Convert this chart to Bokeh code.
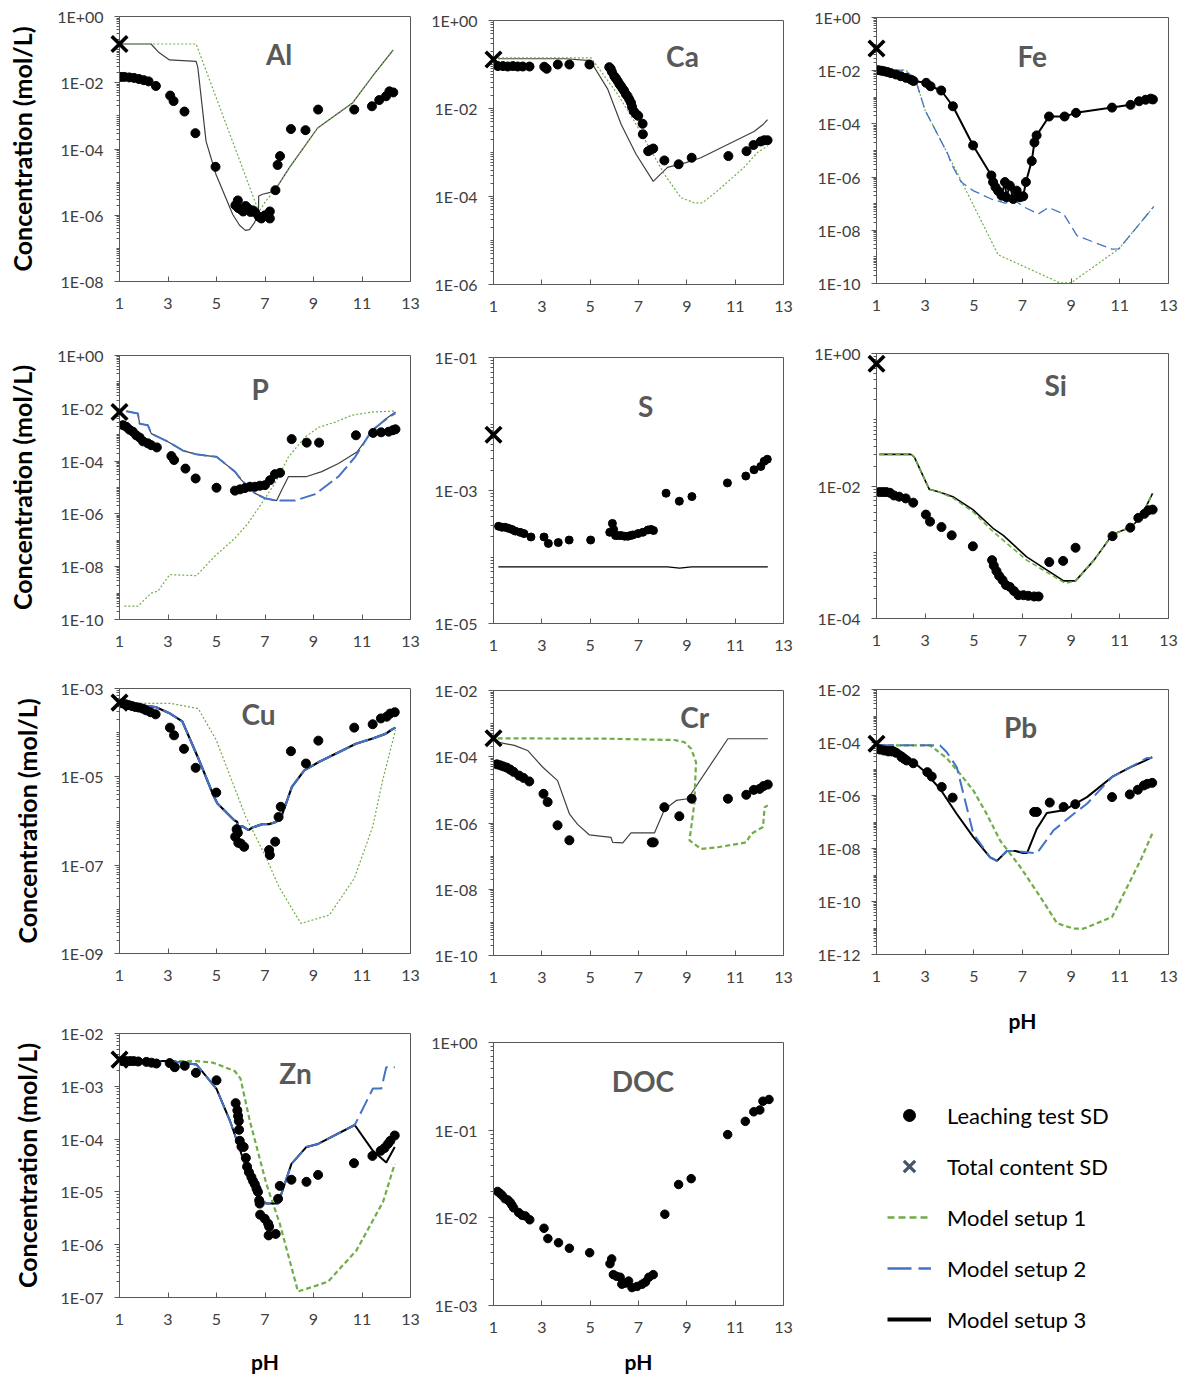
from bokeh.plotting import figure
from bokeh.layouts import row, column
from bokeh.models import (FixedTicker, CustomJSTickFormatter, Label, Range1d,
                          Legend, LegendItem)
from bokeh.embed import file_html
from bokeh.resources import INLINE

# ---------------- data (pH, concentration in mol/L) ----------------
# Al
al_ph = [1.07, 1.2, 1.4, 1.6, 1.8, 2.0, 2.2, 2.5, 3.09, 3.23, 3.68, 4.13, 4.96, 5.78, 5.88, 5.9, 6.0, 6.1, 6.2,
         6.3, 6.4, 6.5, 6.6, 6.75, 6.85, 7.0, 7.2, 7.2, 7.43, 7.52, 7.62, 8.07, 8.67, 9.19, 10.68, 11.41, 11.71,
         11.99, 12.13, 12.29]
al_conc = [1.5e-2, 1.5e-2, 1.45e-2, 1.4e-2, 1.3e-2, 1.2e-2, 1.1e-2, 8e-3, 4.1e-3, 2.8e-3, 1.35e-3, 3e-4, 2.9e-5,
           2e-6, 2.8e-6, 1.65e-6, 1.5e-6, 1.3e-6, 1.9e-6, 1.6e-6, 1.26e-6, 1.4e-6, 1.2e-6, 9e-7, 8e-7, 1e-6, 8e-7,
           1.3e-6, 5.7e-6, 3.3e-5, 6.1e-5, 4e-4, 3.7e-4, 1.55e-3, 1.55e-3, 1.95e-3, 3e-3, 3.9e-3, 5.5e-3, 5.1e-3]
al_total_ph = [1.0]
al_total = [0.148]
al_m1_ph = [1.07, 4.16, 6.75, 7.0, 7.43, 8.0, 9.17, 10.62, 11.44, 12.29]
al_m1 = [0.148, 0.148, 1.26e-6, 2.5e-6, 6e-6, 2.7e-5, 4.3e-4, 2.5e-3, 1.6e-2, 9.8e-2]
al_m3_ph = [1.07, 2.3, 2.6, 3.06, 4.16, 4.23, 4.57, 4.98, 5.67, 5.95, 6.19, 6.36, 6.56, 6.73, 6.74, 6.9, 7.18,
            7.43, 8.0, 9.17, 10.62, 11.44, 12.29]
al_m3 = [0.148, 0.148, 0.085, 0.049, 0.044, 0.029, 1.7e-4, 1.7e-5, 1.05e-6, 5e-7, 3.5e-7, 3.7e-7, 5.9e-7, 1.05e-6,
         3.8e-6, 4.3e-6, 4.8e-6, 6e-6, 2.7e-5, 4.3e-4, 2.5e-3, 1.6e-2, 9.8e-2]

# Ca
ca_ph = [1.18, 1.39, 1.59, 1.8, 2.0, 2.21, 2.49, 3.1, 3.2, 3.66, 4.14, 4.97, 5.79, 5.85, 5.9, 6.0, 6.07, 6.14,
         6.21, 6.28, 6.35, 6.41, 6.48, 6.55, 6.62, 6.69, 6.73, 6.8, 6.9, 6.99, 7.17, 7.18, 7.4, 7.5, 7.61, 8.07,
         8.66, 9.2, 10.72, 11.47, 11.76, 12.06, 12.2, 12.34]
ca_conc = [0.092, 0.092, 0.09, 0.092, 0.09, 0.09, 0.09, 0.089, 0.08, 0.1, 0.1, 0.1, 0.087, 0.08, 0.068, 0.054,
           0.048, 0.042, 0.036, 0.032, 0.028, 0.025, 0.021, 0.019, 0.016, 0.0135, 0.011, 0.0087, 0.0075, 0.0068,
           0.0045, 0.0026, 0.00107, 0.00115, 0.00123, 0.00066, 0.00054, 0.00076, 0.00083, 0.00107, 0.00148,
           0.00178, 0.0019, 0.0019]
ca_total_ph = [1.0]
ca_total = [0.13]
ca_m1_ph = [1.18, 5.04, 6.14, 6.83, 7.38, 8.07, 8.75, 9.3, 9.65, 10.27, 11.37, 11.92, 12.34]
ca_m1 = [0.141, 0.141, 0.021, 0.0051, 0.0015, 3.2e-4, 9.5e-5, 7.2e-5, 7.2e-5, 1.35e-4, 4.6e-4, 1e-3, 1.4e-3]
ca_m3_ph = [1.18, 4.0, 5.0, 5.72, 6.28, 6.9, 7.61, 8.2, 8.96, 9.58, 11.78, 12.13, 12.34]
ca_m3 = [0.135, 0.135, 0.123, 0.028, 0.0044, 9.1e-4, 2.2e-4, 4.6e-4, 5.9e-4, 7.6e-4, 3e-3, 4.2e-3, 5.6e-3]

# Fe
fe_ph = [1.07, 1.2, 1.32, 1.45, 1.59, 1.8, 2.0, 2.21, 2.42, 2.52, 3.04, 3.22, 3.66, 4.14, 4.97, 5.72, 5.79, 5.89,
         6.0, 6.14, 6.28, 6.34, 6.48, 6.62, 6.76, 6.9, 7.03, 7.14, 7.38, 7.49, 7.58, 8.09, 8.73, 9.2, 10.68,
         11.44, 11.79, 12.06, 12.27, 12.36]
fe_conc = [1.05e-2, 1.0e-2, 9.5e-3, 8.9e-3, 8.1e-3, 7.2e-3, 6.2e-3, 5.4e-3, 4.6e-3, 4.1e-3, 3.5e-3, 2.6e-3,
           1.8e-3, 4.6e-4, 1.55e-5, 1.15e-6, 6.5e-7, 4.2e-7, 3e-7, 2e-7, 6.5e-7, 1.75e-7, 4.8e-7, 1.5e-7, 3.1e-7,
           1.75e-7, 1.9e-7, 6.5e-7, 4e-6, 2e-5, 3.7e-5, 1.9e-4, 1.9e-4, 2.6e-4, 4.1e-4, 5.2e-4, 7.1e-4, 8.1e-4,
           8.9e-4, 8.3e-4]
fe_total_ph = [1.0]
fe_total = [6.8e-2]
fe_m1_ph = [1.07, 2.21, 2.63, 3.0, 3.93, 6.0, 8.55, 9.0, 10.96, 12.4]
fe_m1 = [1.0e-2, 1.05e-2, 3.8e-3, 3.2e-4, 7.4e-6, 1.2e-9, 1.05e-10, 1.07e-10, 2e-9, 7.9e-8]
fe_m2_ph = [1.07, 2.21, 2.63, 3.0, 3.93, 4.07, 4.48, 4.97, 5.72, 6.28, 6.69, 7.1, 7.65, 8.07, 8.69, 9.24, 10.68,
            10.96, 12.4]
fe_m2 = [1.0e-2, 1.05e-2, 3.8e-3, 3.2e-4, 7.4e-6, 3.2e-6, 6.5e-7, 3.1e-7, 1.5e-7, 1.05e-7, 1.3e-7, 7.2e-8,
         4.1e-8, 7.2e-8, 4.1e-8, 6.3e-9, 1.95e-9, 2e-9, 7.9e-8]

# P
p_ph = [1.14, 1.28, 1.41, 1.55, 1.69, 1.83, 1.97, 2.17, 2.31, 2.54, 3.14, 3.25, 3.72, 4.14, 5.0, 5.76, 5.97,
        6.17, 6.38, 6.59, 6.79, 7.0, 7.21, 7.41, 7.62, 8.1, 8.72, 9.23, 10.75, 11.46, 11.79, 12.1, 12.27, 12.38]
p_conc = [2.3e-3, 2.0e-3, 1.55e-3, 1.3e-3, 9.5e-4, 7.8e-4, 5.6e-4, 4.7e-4, 4e-4, 3.3e-4, 1.55e-4, 1.1e-4,
          5.2e-5, 2.2e-5, 9.8e-6, 7.6e-6, 8.5e-6, 9.5e-6, 1.07e-5, 1.07e-5, 1.17e-5, 1.23e-5, 1.9e-5, 3.2e-5,
          3.6e-5, 6.8e-4, 5e-4, 5e-4, 9.5e-4, 1.17e-3, 1.23e-3, 1.3e-3, 1.48e-3, 1.6e-3]
p_total_ph = [1.0]
p_total = [7.2e-3]
p_m1_ph = [1.2, 1.76, 2.31, 2.59, 3.07, 4.17, 4.93, 5.76, 6.31, 6.86, 7.41, 7.97, 8.66, 9.21, 9.9, 10.59, 11.41,
           12.38]
p_m1 = [3.2e-10, 3.2e-10, 1.0e-9, 1.2e-9, 5e-9, 4.6e-9, 2.5e-8, 1.2e-7, 4.5e-7, 2.5e-6, 1.45e-5, 1.45e-4,
        8.3e-4, 1.9e-3, 3e-3, 5.5e-3, 7.2e-3, 7.9e-3]
p_m2_ph = [1.28, 1.76, 1.83, 2.17, 2.31, 3.0, 3.62, 4.17, 5.0, 5.76, 6.03, 6.59, 7.0, 7.48, 8.24, 9.07, 10.03,
           10.72, 11.41, 12.1, 12.38]
p_m2 = [7.8e-3, 6.3e-3, 2.6e-3, 2.3e-3, 1.1e-3, 5.4e-4, 2.5e-4, 1.8e-4, 1.45e-4, 4e-5, 1.9e-5, 6e-6, 3.9e-6,
        3.2e-6, 3.2e-6, 5.6e-6, 2.6e-5, 1.45e-4, 1.48e-3, 4.5e-3, 6.6e-3]
p_m3_ph = [1.28, 1.76, 1.83, 2.17, 2.31, 3.0, 3.62, 4.17, 5.0, 5.76, 6.03, 6.59, 7.0, 7.48, 7.69, 7.97, 8.72,
           9.34, 10.03, 10.79, 11.41, 11.9, 12.38]
p_m3 = [7.8e-3, 6.3e-3, 2.6e-3, 2.3e-3, 1.1e-3, 5.4e-4, 2.5e-4, 1.8e-4, 1.45e-4, 4e-5, 1.9e-5, 6e-6, 3.9e-6,
        3.2e-6, 8.1e-6, 2.6e-5, 2.6e-5, 4e-5, 8.1e-5, 2.2e-4, 1.3e-3, 3.5e-3, 7.2e-3]

# S
s_ph = [1.21, 1.35, 1.48, 1.62, 1.76, 1.9, 2.1, 2.26, 2.55, 3.09, 3.27, 3.68, 4.13, 5.02, 5.81, 5.92, 5.97, 6.05,
        6.17, 6.29, 6.43, 6.56, 6.67, 6.77, 6.98, 7.18, 7.39, 7.52, 7.62, 8.14, 8.69, 9.21, 10.68, 11.44, 11.78,
        12.06, 12.2, 12.33]
s_conc = [2.9e-4, 2.8e-4, 2.8e-4, 2.7e-4, 2.6e-4, 2.45e-4, 2.35e-4, 2.25e-4, 2e-4, 2e-4, 1.6e-4, 1.65e-4,
          1.8e-4, 1.8e-4, 2.35e-4, 3.2e-4, 2.6e-4, 2.1e-4, 2.1e-4, 2.1e-4, 2.05e-4, 2.05e-4, 2.1e-4, 2.15e-4,
          2.25e-4, 2.35e-4, 2.55e-4, 2.6e-4, 2.5e-4, 9.1e-4, 6.9e-4, 8.1e-4, 1.3e-3, 1.65e-3, 2.05e-3, 2.3e-3,
          2.75e-3, 2.95e-3]
s_total_ph = [1.0]
s_total = [6.9e-3]
s_m3_ph = [1.2, 8.2, 8.7, 9.2, 12.35]
s_m3 = [7.1e-5, 7.1e-5, 6.8e-5, 7.1e-5, 7.1e-5]

# Si
si_ph = [1.12, 1.26, 1.4, 1.55, 1.72, 1.93, 2.2, 2.51, 3.03, 3.2, 3.67, 4.09, 4.96, 5.75, 5.82, 5.93, 6.04, 6.18,
         6.32, 6.48, 6.65, 6.83, 7.04, 7.24, 7.48, 7.66, 8.1, 8.67, 9.18, 10.7, 11.43, 11.76, 12.01, 12.17, 12.35]
si_conc = [8.1e-3, 8.1e-3, 8.1e-3, 7.9e-3, 7.2e-3, 6.9e-3, 6.5e-3, 5.6e-3, 3.7e-3, 2.9e-3, 2.4e-3, 1.8e-3,
           1.23e-3, 7.6e-4, 6.3e-4, 5.2e-4, 4.4e-4, 3.8e-4, 3.2e-4, 3e-4, 2.6e-4, 2.25e-4, 2.25e-4, 2.2e-4,
           2.15e-4, 2.15e-4, 7.1e-4, 7.4e-4, 1.17e-3, 1.75e-3, 2.35e-3, 3.3e-3, 3.8e-3, 4.3e-3, 4.4e-3]
si_total_ph = [1.0]
si_total = [0.7]
si_m1_ph = [1.12, 2.41, 2.55, 3.17, 3.58, 4.14, 4.96, 5.79, 7.17, 8.76, 9.18, 9.94, 10.7, 11.46, 11.87, 12.35]
si_m1 = [3e-2, 3e-2, 2.75e-2, 8.9e-3, 8.1e-3, 6.6e-3, 4.1e-3, 2.05e-3, 7.6e-4, 3.4e-4, 3.7e-4, 7.6e-4, 1.85e-3,
         2.4e-3, 3.4e-3, 7.8e-3]
si_m3_ph = [1.12, 2.41, 2.55, 3.17, 3.58, 4.14, 4.96, 5.79, 6.21, 7.17, 8.69, 9.18, 9.94, 10.7, 11.46, 11.87,
            12.35]
si_m3 = [3e-2, 3e-2, 2.75e-2, 8.9e-3, 8.1e-3, 6.9e-3, 4.4e-3, 2.3e-3, 1.8e-3, 8.5e-4, 3.7e-4, 3.7e-4, 7.6e-4,
         1.85e-3, 2.4e-3, 3.4e-3, 7.8e-3]

# Cu
cu_ph = [1.11, 1.25, 1.39, 1.52, 1.66, 1.8, 1.96, 2.1, 2.28, 2.49, 3.08, 3.25, 3.66, 4.14, 4.99, 5.77, 5.83, 5.88,
         5.9, 6.0, 6.14, 7.17, 7.2, 7.42, 7.56, 7.65, 8.07, 8.69, 9.2, 10.68, 11.44, 11.78, 12.02, 12.16, 12.35]
cu_conc = [4.6e-4, 4.4e-4, 4.2e-4, 4e-4, 3.8e-4, 3.7e-4, 3.5e-4, 3.2e-4, 2.9e-4, 2.6e-4, 1.3e-4, 8.7e-5, 4.3e-5,
           1.6e-5, 4.4e-6, 4.4e-7, 6.5e-7, 5.4e-7, 3.2e-7, 3.1e-7, 2.6e-7, 2.2e-7, 1.7e-7, 3.4e-7, 1.23e-6,
           2.1e-6, 3.8e-5, 2e-5, 6.6e-5, 1.3e-4, 1.55e-4, 2.1e-4, 2.3e-4, 2.7e-4, 2.9e-4]
cu_total_ph = [1.0]
cu_total = [4.8e-4]
cu_m1_ph = [1.2, 3.11, 4.25, 4.99, 6.21, 7.03, 7.58, 8.48, 9.65, 10.68, 11.44, 11.85, 12.38]
cu_m1 = [4.6e-4, 4.6e-4, 3.5e-4, 6.8e-5, 1.23e-6, 1.55e-7, 3.2e-8, 4.8e-9, 7.4e-9, 5e-8, 7.4e-7, 8.3e-6, 1.15e-4]
cu_m23_ph = [1.18, 2.49, 3.04, 3.59, 4.28, 4.9, 5.04, 5.72, 5.86, 5.87, 6.07, 6.32, 6.48, 6.9, 7.17, 7.45, 7.65,
             8.11, 8.62, 9.24, 10.75, 11.44, 11.99, 12.2, 12.38]
cu_m23 = [4.6e-4, 3.8e-4, 2.8e-4, 1.8e-4, 2.4e-5, 3.5e-6, 2.5e-6, 1.05e-6, 9.5e-7, 7.4e-7, 7.6e-7, 6.2e-7, 7.1e-7,
          8.5e-7, 8.5e-7, 9.5e-7, 1.15e-6, 5.9e-6, 1.4e-5, 2.2e-5, 5.6e-5, 7.4e-5, 9.5e-5, 1.15e-4, 1.3e-4]

# Cr
cr_ph = [1.14, 1.28, 1.41, 1.55, 1.69, 1.83, 2.06, 2.24, 2.48, 3.07, 3.24, 3.65, 4.14, 7.55, 7.63, 8.07, 8.69,
         9.2, 10.7, 11.46, 11.77, 12.01, 12.17, 12.35]
cr_conc = [5.9e-5, 5.5e-5, 5.1e-5, 4.7e-5, 4.1e-5, 3.5e-5, 2.7e-5, 2.3e-5, 1.8e-5, 7.6e-6, 4.3e-6, 8.5e-7, 3e-7,
           2.6e-7, 2.6e-7, 3e-6, 1.6e-6, 5.4e-6, 5.4e-6, 7.1e-6, 1e-5, 1.07e-5, 1.3e-5, 1.45e-5]
cr_total_ph = [1.0]
cr_total = [3.6e-4]
cr_m1_ph = [1.17, 5.72, 8.49, 8.9, 9.18, 9.38, 9.31, 9.11, 9.59, 10.28, 11.46, 11.66, 12.15, 12.22, 12.35]
cr_m1 = [3.6e-4, 3.5e-4, 3.2e-4, 2.75e-4, 1.75e-4, 6.9e-5, 3.8e-6, 3e-7, 1.65e-7, 1.85e-7, 2.6e-7, 4.7e-7, 7.6e-7,
         3e-6, 3.4e-6]
cr_m3_ph = [1.17, 1.86, 2.41, 3.03, 3.65, 4.14, 4.48, 4.96, 5.86, 5.93, 6.35, 6.69, 7.66, 8.07, 8.56, 9.04, 10.7,
            12.35]
cr_m3 = [2.75e-4, 2.2e-4, 1.55e-4, 4.9e-5, 1.9e-5, 1.9e-6, 9.1e-7, 4.4e-7, 3.7e-7, 2.6e-7, 2.5e-7, 5e-7, 5e-7,
         2.5e-6, 4.8e-6, 5.4e-6, 3.5e-4, 3.5e-4]

# Pb
pb_ph = [1.14, 1.31, 1.48, 1.62, 1.8, 2.03, 2.14, 2.24, 2.51, 3.09, 3.27, 3.68, 4.13, 7.48, 7.59, 8.12, 8.69, 9.17,
         10.68, 11.41, 11.74, 11.99, 12.13, 12.33]
pb_conc = [5.4e-5, 5e-5, 4.6e-5, 4.6e-5, 4.1e-5, 2.8e-5, 2.4e-5, 2.1e-5, 1.65e-5, 7.6e-6, 5.2e-6, 2.1e-6, 8.3e-7,
           2.4e-7, 2.4e-7, 5.4e-7, 3.7e-7, 4.7e-7, 8.7e-7, 1.1e-6, 1.65e-6, 2.4e-6, 2.75e-6, 3e-6]
pb_total_ph = [1.0]
pb_total = [9e-5]
pb_m1_ph = [1.14, 3.2, 3.88, 4.43, 4.98, 5.53, 6.08, 6.91, 7.73, 8.42, 9.1, 9.52, 10.68, 11.3, 11.85, 12.33]
pb_m1 = [7.8e-5, 7.8e-5, 2.6e-5, 6.6e-6, 1.55e-6, 2e-7, 2e-8, 2e-9, 1.5e-10, 1.5e-11, 9.5e-12, 9.5e-12, 2.6e-11,
         3.5e-10, 3.6e-9, 3.6e-8]
pb_m2_ph = [1.14, 3.61, 3.88, 4.3, 4.98, 5.67, 5.95, 6.36, 6.7, 7.59, 8.28, 9.1, 9.65, 10.68, 11.44, 12.1, 12.33]
pb_m2 = [7.8e-5, 7.8e-5, 4.4e-5, 1.17e-5, 3.6e-8, 4.6e-9, 3.4e-9, 8.1e-9, 8.1e-9, 6.5e-9, 4.9e-8, 2e-7, 4.9e-7,
         5e-6, 1.17e-5, 2.6e-5, 2.6e-5]
pb_m3_ph = [1.14, 1.69, 2.1, 2.92, 3.61, 4.3, 4.98, 5.67, 5.95, 6.36, 6.7, 7.02, 7.19, 7.59, 8.0, 8.69, 9.65,
            10.68, 11.44, 12.06, 12.33]
pb_m3 = [7.8e-5, 6.8e-5, 4e-5, 8.9e-6, 1.8e-6, 2e-7, 2.7e-8, 4.6e-9, 3.4e-9, 8.1e-9, 8.1e-9, 6.8e-9, 6.8e-9,
         5.6e-8, 2.2e-7, 2.75e-7, 8.7e-7, 5e-6, 1.17e-5, 2.1e-5, 2.8e-5]

# Zn
zn_ph = [1.12, 1.27, 1.43, 1.58, 1.77, 2.11, 2.32, 2.52, 3.07, 3.28, 3.69, 4.15, 5.0, 5.79, 5.86, 5.89, 5.92, 5.93,
         5.96, 6.03, 6.12, 6.21, 6.26, 6.34, 6.44, 6.51, 6.58, 6.65, 6.71, 6.76, 6.78, 6.8, 6.99, 7.13, 7.17, 7.15,
         7.44, 7.54, 7.61, 8.09, 8.71, 9.19, 10.67, 11.43, 11.77, 11.93, 12.07, 12.17, 12.35]
zn_conc = [3e-3, 3e-3, 3e-3, 3e-3, 2.95e-3, 2.9e-3, 2.8e-3, 2.7e-3, 2.75e-3, 2.3e-3, 2.45e-3, 1.8e-3, 1.3e-3,
           4.8e-4, 3.5e-4, 2.75e-4, 2.2e-4, 1.5e-4, 9.3e-5, 7.2e-5, 7.1e-5, 4.4e-5, 3e-5, 2.35e-5, 1.9e-5, 1.6e-5,
           1.4e-5, 1.15e-5, 1e-5, 6.9e-6, 6e-6, 3.7e-6, 3.1e-6, 2.5e-6, 2.2e-6, 1.5e-6, 1.6e-6, 7.4e-6, 1.3e-5,
           1.7e-5, 1.55e-5, 2.1e-5, 3.5e-5, 4.8e-5, 6e-5, 6.8e-5, 8.1e-5, 9.3e-5, 1.17e-4]
zn_total_ph = [1.0]
zn_total = [3.2e-3]
zn_m1_ph = [1.15, 4.17, 4.86, 5.75, 5.99, 6.37, 7.06, 7.61, 8.36, 8.98, 9.6, 10.77, 11.87, 12.35]
zn_m1 = [3e-3, 3e-3, 2.8e-3, 1.95e-3, 1.4e-3, 2.25e-4, 1.4e-5, 2.5e-6, 1.3e-7, 1.6e-7, 2e-7, 7.8e-7, 6.5e-6, 3.4e-5]
zn_m2_ph = [1.15, 3.07, 4.17, 5.0, 5.55, 5.96, 6.37, 6.71, 7.06, 7.54, 7.81, 8.09, 8.71, 9.19, 10.7, 11.45, 11.8,
            12.0, 12.35]
zn_m2 = [3e-3, 3e-3, 2.6e-3, 8.9e-4, 2.25e-4, 6.5e-5, 1.65e-5, 7.9e-6, 6e-6, 6e-6, 1.4e-5, 3.4e-5, 7.1e-5, 8.1e-5,
         1.85e-4, 9.1e-4, 9.1e-4, 2.3e-3, 2.3e-3]
zn_m3_ph = [1.15, 3.07, 4.17, 5.0, 5.55, 5.96, 6.37, 6.71, 7.06, 7.54, 7.81, 8.09, 8.71, 9.19, 10.7, 11.45, 12.0,
            12.35]
zn_m3 = [3e-3, 3e-3, 2.6e-3, 8.9e-4, 2.25e-4, 6.5e-5, 1.65e-5, 7.9e-6, 6e-6, 6e-6, 1.4e-5, 3.4e-5, 7.1e-5, 8.1e-5,
         1.85e-4, 6e-5, 3.6e-5, 7.1e-5]

# DOC
doc_ph = [1.17, 1.27, 1.36, 1.48, 1.59, 1.69, 1.76, 1.83, 2.04, 2.18, 2.32, 2.5, 3.09, 3.25, 3.69, 4.14, 4.98,
          5.82, 5.89, 5.96, 6.1, 6.24, 6.31, 6.45, 6.59, 6.73, 6.94, 7.15, 7.29, 7.43, 7.61, 8.09, 8.66, 9.18,
          10.69, 11.42, 11.77, 12.02, 12.15, 12.4]
doc_conc = [2e-2, 1.9e-2, 1.8e-2, 1.65e-2, 1.6e-2, 1.5e-2, 1.4e-2, 1.3e-2, 1.15e-2, 1.07e-2, 1.05e-2, 9.5e-3,
            7.6e-3, 5.8e-3, 5.2e-3, 4.5e-3, 4e-3, 3e-3, 3.4e-3, 2.25e-3, 2.15e-3, 2.1e-3, 1.75e-3, 1.8e-3, 1.9e-3,
            1.6e-3, 1.65e-3, 1.75e-3, 1.85e-3, 2.1e-3, 2.25e-3, 1.1e-2, 2.4e-2, 2.8e-2, 8.9e-2, 0.126, 0.162,
            0.17, 0.214, 0.224]

ph_ticks = [1, 3, 5, 7, 9, 11, 13]
y_label = "Concentration (mol/L)"
x_label = "pH"
legend_labels = ["Leaching test SD", "Total content SD", "Model setup 1", "Model setup 2", "Model setup 3"]

# ---------------- styling ----------------
FONT = "Lato"
GREEN = "#70AD47"
BLUE = "#4472C4"
BLACK = "#000000"
GREYLINE = "#404040"
AXIS_COL = "#595959"
TICK_TXT = "#404040"
TITLE_COL = "#595959"
DOT = 9

FMT_CODE = """
const e = Math.round(Math.log10(tick));
const a = Math.abs(e);
return '1E' + (e < 0 ? '-' : '+') + (a < 10 ? '0' : '') + a;
"""

# column geometry (page pixels): x start, x end, frame left, frame right
COLS = [(0, 428, 119, 410), (428, 800, 493, 783), (800, 1189, 876, 1168)]


def log_ticks(lo, hi, step):
    majors = [10.0 ** e for e in range(lo, hi + 1, step)]
    minors = [m * 10.0 ** e for e in range(lo, hi) for m in range(1, 10)
              if not (m == 1 and (e - lo) % step == 0)]
    return majors, minors


def make_panel(col, y0, y1, T, B, lo, hi, step, title, title_xy, ylab_gap=None, xlab_gap=None):
    x0, x1, L, R = COLS[col]
    p = figure(width=x1 - x0, height=y1 - y0, x_range=Range1d(1, 13),
               y_range=Range1d(10.0 ** lo, 10.0 ** hi), y_axis_type="log",
               output_backend="svg", toolbar_location=None,
               min_border_left=L - x0, min_border_right=x1 - R,
               min_border_top=T - y0, min_border_bottom=y1 - B)
    p.grid.visible = False
    p.outline_line_color = AXIS_COL
    p.outline_line_width = 1
    majors, minors = log_ticks(lo, hi, step)
    p.yaxis.ticker = FixedTicker(ticks=majors, minor_ticks=minors)
    p.yaxis.formatter = CustomJSTickFormatter(code=FMT_CODE)
    p.xaxis.ticker = FixedTicker(ticks=ph_ticks)
    for ax in (p.xaxis[0], p.yaxis[0]):
        ax.axis_line_color = AXIS_COL
        ax.major_tick_line_color = AXIS_COL
        ax.minor_tick_line_color = AXIS_COL
        ax.major_label_text_font = FONT
        ax.major_label_text_font_size = "16px"
        ax.major_label_text_color = TICK_TXT
    p.xaxis.major_tick_in = 5
    p.xaxis.major_tick_out = 0
    p.xaxis.minor_tick_in = 0
    p.xaxis.minor_tick_out = 0
    p.xaxis.major_label_standoff = 16
    p.yaxis.major_tick_in = 0
    p.yaxis.major_tick_out = 5
    p.yaxis.minor_tick_in = 0
    p.yaxis.minor_tick_out = 3
    p.yaxis.major_label_standoff = 11
    if ylab_gap is not None:
        p.yaxis.axis_label = y_label
        p.yaxis.axis_label_text_font = FONT
        p.yaxis.axis_label_text_font_size = "25px"
        p.yaxis.axis_label_text_font_style = "bold"
        p.yaxis.axis_label_text_color = BLACK
        p.yaxis.axis_label_standoff = ylab_gap
    if xlab_gap is not None:
        p.xaxis.axis_label = x_label
        p.xaxis.axis_label_text_font = FONT
        p.xaxis.axis_label_text_font_size = "21px"
        p.xaxis.axis_label_text_font_style = "bold"
        p.xaxis.axis_label_text_color = BLACK
        p.xaxis.axis_label_standoff = xlab_gap
    p.add_layout(Label(x=title_xy[0], y=title_xy[1], text=title, text_font=FONT, text_font_size="28px",
                       text_font_style="bold", text_color=TITLE_COL, text_align="center",
                       text_baseline="middle"))
    return p


def dots(p, x, y, size=DOT):
    return p.scatter(x, y, marker="circle", size=size, fill_color=BLACK, line_color=BLACK)


def cross(p, x, y):
    return p.scatter(x, y, marker="x", size=22, line_color=BLACK, line_width=3.6, level="overlay")


# ---------------- column 1 ----------------
al = make_panel(0, 0, 330, 16, 281, -8, 0, 2, "Al", (7.58, 0.074), ylab_gap=17)
al.line(al_m3_ph, al_m3, line_color=GREYLINE, line_width=1.2)
al.line(al_m1_ph, al_m1, line_color=GREEN, line_width=1.2, line_dash="2 2")
dots(al, al_ph, al_conc)
cross(al, al_total_ph, al_total)

pp = make_panel(0, 330, 665, 355, 619, -10, 0, 2, "P", (6.8, 0.055), ylab_gap=17)
pp.line(p_m1_ph, p_m1, line_color=GREEN, line_width=1.2, line_dash="2 2")
pp.line(p_m3_ph, p_m3, line_color=GREYLINE, line_width=1.2)
pp.line(p_m2_ph, p_m2, line_color=BLUE, line_width=2, line_dash="16 5")
dots(pp, p_ph, p_conc)
cross(pp, p_total_ph, p_total)

cu = make_panel(0, 665, 1010, 688, 953, -9, -3, 2, "Cu", (6.73, 2.6e-4), ylab_gap=15)
cu.line(cu_m1_ph, cu_m1, line_color=GREEN, line_width=1.2, line_dash="2 2")
cu.line(cu_m23_ph, cu_m23, line_color=BLACK, line_width=2.2)
cu.line(cu_m23_ph, cu_m23, line_color=BLUE, line_width=2.2, line_dash="16 4")
dots(cu, cu_ph, cu_conc)
cross(cu, cu_total_ph, cu_total)

zn = make_panel(0, 1010, 1378, 1033, 1297, -7, -2, 1, "Zn", (8.26, 1.8e-3), ylab_gap=15, xlab_gap=21)
zn.line(zn_m1_ph, zn_m1, line_color=GREEN, line_width=2.2, line_dash="5 3")
zn.line(zn_m3_ph, zn_m3, line_color=BLACK, line_width=2)
zn.line(zn_m2_ph, zn_m2, line_color=BLUE, line_width=2, line_dash="16 6")
dots(zn, zn_ph, zn_conc)
cross(zn, zn_total_ph, zn_total)

# ---------------- column 2 ----------------
ca = make_panel(1, 0, 330, 20, 284, -6, 0, 2, "Ca", (8.82, 0.16))
ca.line(ca_m3_ph, ca_m3, line_color=GREYLINE, line_width=1.2)
ca.line(ca_m1_ph, ca_m1, line_color=GREEN, line_width=1.2, line_dash="2 2")
dots(ca, ca_ph, ca_conc)
cross(ca, ca_total_ph, ca_total)

ss = make_panel(1, 330, 665, 357, 623, -5, -1, 2, "S", (7.3, 0.0186))
ss.line(s_m3_ph, s_m3, line_color=BLACK, line_width=1.2)
dots(ss, s_ph, s_conc, size=8)
cross(ss, s_total_ph, s_total)

cr = make_panel(1, 665, 1010, 690, 955, -10, -2, 2, "Cr", (9.33, 1.6e-3))
cr.line(cr_m3_ph, cr_m3, line_color=GREYLINE, line_width=1.2)
cr.line(cr_m1_ph, cr_m1, line_color=GREEN, line_width=2.2, line_dash="5 3")
dots(cr, cr_ph, cr_conc)
cross(cr, cr_total_ph, cr_total)

doc = make_panel(1, 1010, 1378, 1042, 1305, -3, 0, 1, "DOC", (7.18, 0.36), xlab_gap=13)
dots(doc, doc_ph, doc_conc, size=8.5)

# ---------------- column 3 ----------------
fe = make_panel(2, 0, 330, 17, 283, -10, 0, 2, "Fe", (7.4, 0.036))
fe.line(fe_m1_ph, fe_m1, line_color=GREEN, line_width=1.2, line_dash="2 2")
fe.line(fe_m2_ph, fe_m2, line_color=BLUE, line_width=1.3, line_dash="10 5")
fe.line(fe_ph, fe_conc, line_color=BLACK, line_width=2)
dots(fe, fe_ph, fe_conc)
cross(fe, fe_total_ph, fe_total)

si = make_panel(2, 330, 665, 353, 618, -4, 0, 2, "Si", (8.36, 0.33))
si.line(si_m3_ph, si_m3, line_color=BLACK, line_width=1.6)
si.line(si_m1_ph, si_m1, line_color=GREEN, line_width=1.6, line_dash="5 3")
dots(si, si_ph, si_conc)
cross(si, si_total_ph, si_total)

pb = make_panel(2, 665, 1040, 689, 954, -12, -2, 2, "Pb", (6.92, 3.8e-4), xlab_gap=23)
pb.line(pb_m1_ph, pb_m1, line_color=GREEN, line_width=2.2, line_dash="5 3")
pb.line(pb_m3_ph, pb_m3, line_color=BLACK, line_width=2)
pb.line(pb_m2_ph, pb_m2, line_color=BLUE, line_width=2, line_dash="14 6")
dots(pb, pb_ph, pb_conc)
cross(pb, pb_total_ph, pb_total)

# ---------------- legend panel (series key, renderers hidden) ----------------
x0, x1, L, R = COLS[2]
leg = figure(width=x1 - x0, height=1378 - 1040, x_range=Range1d(1, 13), y_range=Range1d(1e-12, 1e-2),
             y_axis_type="log", output_backend="svg", toolbar_location=None,
             min_border_left=L - x0, min_border_right=x1 - R, min_border_top=0, min_border_bottom=0)
leg.xaxis.visible = False
leg.yaxis.visible = False
leg.grid.visible = False
leg.outline_line_color = None
r_dot = leg.scatter(pb_ph, pb_conc, marker="circle", size=10, fill_color=BLACK, line_color=BLACK, visible=False)
r_x = leg.scatter(pb_total_ph, pb_total, marker="x", size=16, line_color="#44546A", line_width=3.2, visible=False)
r_m1 = leg.line(pb_m1_ph, pb_m1, line_color=GREEN, line_width=2.5, line_dash="7 4", visible=False)
r_m2 = leg.line(pb_m2_ph, pb_m2, line_color=BLUE, line_width=2.5, line_dash="24 7", visible=False)
r_m3 = leg.line(pb_m3_ph, pb_m3, line_color=BLACK, line_width=4, visible=False)

LEG_STYLE = dict(orientation="vertical", glyph_width=44, label_height=30, spacing=21, label_standoff=16,
                 padding=0, margin=0, border_line_color=None, background_fill_alpha=0, inactive_fill_alpha=0,
                 label_text_font=FONT, label_text_font_size="22px", label_text_color=BLACK)
leg.add_layout(Legend(items=[LegendItem(label=legend_labels[0], renderers=[r_dot])],
                      location=(11, 248), glyph_height=30, **LEG_STYLE))
leg.add_layout(Legend(items=[LegendItem(label=legend_labels[1], renderers=[r_x])],
                      location=(11, 192), glyph_height=40, **LEG_STYLE))
leg.add_layout(Legend(items=[LegendItem(label=legend_labels[i + 2], renderers=[r]) for i, r in
                             enumerate([r_m1, r_m2, r_m3])],
                      location=(11, 44), glyph_height=30, **LEG_STYLE))

layout = row(column(al, pp, cu, zn), column(ca, ss, cr, doc), column(fe, si, pb, leg))

with open("out.html", "w") as f:
    f.write(file_html(layout, INLINE))
